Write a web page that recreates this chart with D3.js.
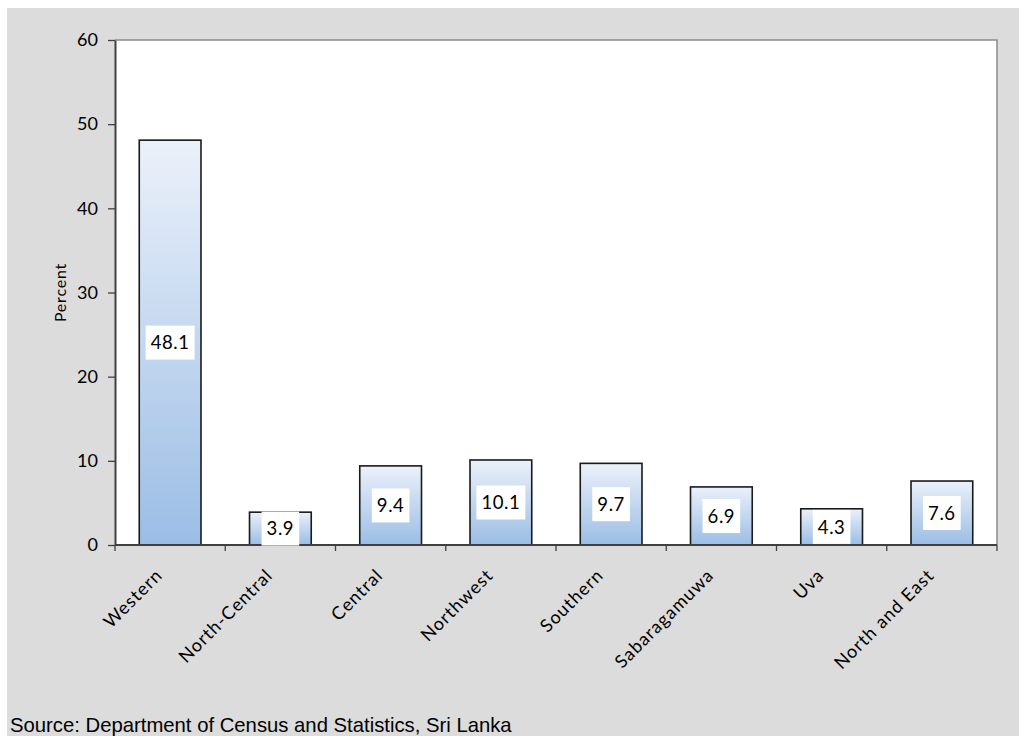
<!DOCTYPE html>
<html>
<head>
<meta charset="utf-8">
<script src="https://cdn.jsdelivr.net/npm/d3@7/dist/d3.min.js"></script>
<style>
  html, body { margin: 0; padding: 0; background: #ffffff; }
  svg { display: block; }
</style>
</head>
<body>
<script>
// Share of population by province (percent)
const provinces = ["Western", "North-Central", "Central", "Northwest", "Southern", "Sabaragamuwa", "Uva", "North and East"];
const shares = [48.1, 3.9, 9.4, 10.1, 9.7, 6.9, 4.3, 7.6];
const yTicks = [0, 10, 20, 30, 40, 50, 60];
const yTitle = "Percent";
const sourceNote = "Source: Department of Census and Statistics, Sri Lanka";

const W = 1019, H = 736;
const plot = { left: 115, right: 997, top: 40, bottom: 545 };

const svg = d3.select("body").append("svg")
  .attr("width", W).attr("height", H);

// grey chart panel
svg.append("rect")
  .attr("x", 7).attr("y", 8)
  .attr("width", W - 7).attr("height", H - 8)
  .attr("fill", "#dcdcdc");

// white plotting area
svg.append("rect")
  .attr("x", plot.left).attr("y", plot.top)
  .attr("width", plot.right - plot.left).attr("height", plot.bottom - plot.top)
  .attr("fill", "#ffffff");

// top and right border of plotting area
svg.append("path")
  .attr("d", `M${plot.left},${plot.top}H${plot.right}V${plot.bottom}`)
  .attr("fill", "none").attr("stroke", "#8a8a8a").attr("stroke-width", 1.5);

const x = d3.scaleBand().domain(provinces)
  .range([plot.left, plot.right]).paddingInner(0.44).paddingOuter(0.22);
const xStep = d3.scaleBand().domain(provinces).range([plot.left, plot.right]);
const y = d3.scaleLinear().domain([0, 60]).range([plot.bottom, plot.top]);

// vertical gradient used by every bar
const defs = svg.append("defs");
const grad = defs.append("linearGradient")
  .attr("id", "barFill").attr("x1", 0).attr("y1", 0).attr("x2", 0).attr("y2", 1);
grad.append("stop").attr("offset", "0%").attr("stop-color", "#ebf1fa");
grad.append("stop").attr("offset", "100%").attr("stop-color", "#9bbde5");

const labelFont = "Lato, 'Open Sans', sans-serif";

// bars
svg.append("g").selectAll("rect")
  .data(provinces)
  .join("rect")
  .attr("x", d => x(d))
  .attr("y", (d, i) => y(shares[i]))
  .attr("width", x.bandwidth())
  .attr("height", (d, i) => y(0) - y(shares[i]))
  .attr("fill", "url(#barFill)")
  .attr("stroke", "#1a1a1a")
  .attr("stroke-width", 1.6);

// y axis
const yAxis = svg.append("g")
  .attr("transform", `translate(${plot.left},0)`)
  .call(d3.axisLeft(y).tickValues(yTicks).tickSize(7).tickSizeOuter(0).tickPadding(10));
yAxis.select(".domain").attr("stroke", "#404040").attr("stroke-width", 2);
yAxis.selectAll(".tick line").attr("stroke", "#404040").attr("stroke-width", 1.3);
yAxis.selectAll(".tick text")
  .attr("font-family", labelFont).attr("font-size", 18).attr("fill", "#000");

// x axis with ticks between categories
const xAxisG = svg.append("g").attr("transform", `translate(0,${plot.bottom})`);
xAxisG.append("line")
  .attr("x1", plot.left).attr("x2", plot.right)
  .attr("stroke", "#404040").attr("stroke-width", 2);
const boundaries = provinces.map(d => xStep(d)).concat([plot.right]);
xAxisG.selectAll("line.tk").data(boundaries).join("line")
  .attr("class", "tk")
  .attr("x1", d => d).attr("x2", d => d)
  .attr("y1", 0).attr("y2", 6)
  .attr("stroke", "#404040").attr("stroke-width", 1.3);

// rotated category labels
xAxisG.selectAll("text.cat").data(provinces).join("text")
  .attr("class", "cat")
  .attr("transform", d => `translate(${xStep(d) + xStep.bandwidth() / 2 - 11},${27}) rotate(-45)`)
  .attr("text-anchor", "end")
  .attr("dy", "0.35em")
  .attr("font-family", labelFont).attr("font-size", 18)
  .attr("letter-spacing", 1)
  .attr("fill", "#000")
  .text(d => d);

// y axis title
svg.append("text")
  .attr("transform", `translate(66,${(plot.top + plot.bottom) / 2}) rotate(-90)`)
  .attr("text-anchor", "middle")
  .attr("font-family", labelFont).attr("font-size", 16)
  .attr("letter-spacing", 0.8)
  .attr("fill", "#000")
  .text(yTitle);

// value labels in white boxes, centred in each bar
const labels = svg.append("g").selectAll("g")
  .data(provinces)
  .join("g")
  .attr("transform", (d, i) => `translate(${x(d) + x.bandwidth() / 2},${(y(shares[i]) + y(0)) / 2})`);

labels.append("text")
  .attr("text-anchor", "middle")
  .attr("dy", "0.36em")
  .attr("font-family", labelFont).attr("font-size", 18.5)
  .attr("letter-spacing", 0.6)
  .attr("fill", "#000")
  .text((d, i) => shares[i].toFixed(1))
  .each(function () {
    const bb = this.getBBox();
    d3.select(this.parentNode).insert("rect", "text")
      .attr("x", -bb.width / 2 - 5)
      .attr("y", -17)
      .attr("width", bb.width + 10)
      .attr("height", 34)
      .attr("fill", "#ffffff");
  });

// source note
svg.append("text")
  .attr("x", 10).attr("y", 732)
  .attr("font-family", "'Liberation Sans', Arial, sans-serif")
  .attr("font-size", 20.3)
  .attr("fill", "#000")
  .text(sourceNote);
</script>
</body>
</html>
